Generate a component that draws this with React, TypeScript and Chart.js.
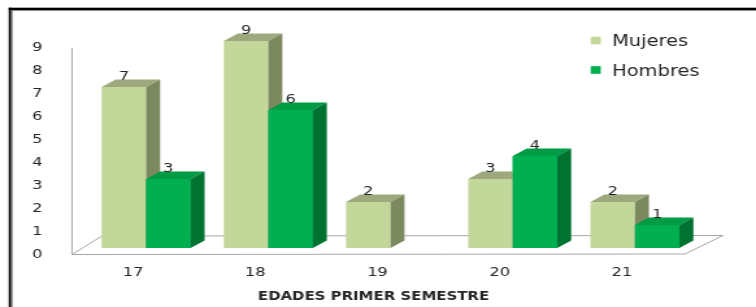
import React, { useEffect, useRef } from 'react';
import { Chart, registerables } from 'chart.js';

Chart.register(...registerables);

// ---- data ----
const categories = ['17', '18', '19', '20', '21'];
const seriesNames = ['Mujeres', 'Hombres'];
const mujeres: (number | null)[] = [7, 9, 2, 3, 2];
const hombres: (number | null)[] = [3, 6, null, 4, 1];
const axisTitle = 'EDADES PRIMER SEMESTRE';
const yMin = 0;
const yMax = 9;
const yStep = 1;

// ---- layout / style ----
const W = 756;
const H = 307;
const CW = 582; // internal canvas width; displayed stretched to W
const SX = W / CW;
const px = (v: number) => v / SX;

const FONT = "'DejaVu Sans', 'Noto Sans', sans-serif";
const TEXT = '#262626';
const palette = [
  { front: '#C4D79B', top: '#9DA97D', side: '#7C895E' },
  { front: '#00B050', top: '#009B45', side: '#007332' },
];
const DEPTH_X = 14;
const DEPTH_Y = -7.5;

function drawFaces(ctx: CanvasRenderingContext2D, bar: any, colors: any) {
  const { x, y, base, width } = bar.getProps(['x', 'y', 'base', 'width'], true);
  if (!isFinite(y) || !isFinite(x)) return;
  const l = x - width / 2;
  const r = x + width / 2;
  const dx = px(DEPTH_X);
  const dy = DEPTH_Y;
  ctx.fillStyle = colors.top;
  ctx.beginPath();
  ctx.moveTo(l, y);
  ctx.lineTo(l + dx, y + dy);
  ctx.lineTo(r + dx, y + dy);
  ctx.lineTo(r, y);
  ctx.closePath();
  ctx.fill();
  ctx.fillStyle = colors.side;
  ctx.beginPath();
  ctx.moveTo(r, y);
  ctx.lineTo(r + dx, y + dy);
  ctx.lineTo(r + dx, base + dy);
  ctx.lineTo(r, base);
  ctx.closePath();
  ctx.fill();
}

const threeD = {
  id: 'threeD',
  beforeDraw(chart: any) {
    const ctx = chart.ctx as CanvasRenderingContext2D;
    ctx.save();
    ctx.fillStyle = '#ffffff';
    ctx.fillRect(0, 0, chart.width, chart.height);
    // frame
    ctx.fillStyle = '#000000';
    ctx.fillRect(px(8.7), 7.7, chart.width, 2.4);
    ctx.fillRect(px(8.7), 7.7, px(2.6), chart.height);
    ctx.fillStyle = '#8c8c8c';
    ctx.fillRect(px(11.3), 10.1, chart.width, 1);
    ctx.fillRect(px(11.3), 10.1, px(1.4), chart.height);
    ctx.restore();
  },
  beforeDatasetsDraw(chart: any) {
    const ctx = chart.ctx as CanvasRenderingContext2D;
    const { left, right, top, bottom } = chart.chartArea;
    ctx.save();
    ctx.strokeStyle = '#a6a6a6';
    ctx.lineWidth = 1;
    ctx.beginPath();
    ctx.moveTo(left - px(13), bottom + 6.5);
    ctx.lineTo(right - px(11), bottom + 6);
    ctx.lineTo(right + px(27), bottom - 12.5);
    ctx.lineTo(left + px(17), bottom - 12);
    ctx.closePath();
    ctx.stroke();
    ctx.beginPath();
    ctx.moveTo(left - px(13), top + 7);
    ctx.lineTo(left - px(13), bottom + 6.5);
    ctx.stroke();
    ctx.restore();
  },
  afterDatasetsDraw(chart: any) {
    const ctx = chart.ctx as CanvasRenderingContext2D;
    const m0 = chart.getDatasetMeta(0);
    const m1 = chart.getDatasetMeta(1);
    ctx.save();
    for (let j = 0; j < categories.length; j++) {
      if (mujeres[j] != null) drawFaces(ctx, m0.data[j], palette[0]);
      if (hombres[j] != null) {
        m1.data[j].draw(ctx);
        drawFaces(ctx, m1.data[j], palette[1]);
      }
    }
    // value labels
    ctx.font = `12.5px ${FONT}`;
    ctx.fillStyle = TEXT;
    ctx.textAlign = 'center';
    ctx.textBaseline = 'alphabetic';
    [mujeres, hombres].forEach((vals, di) => {
      const meta = chart.getDatasetMeta(di);
      vals.forEach((v, j) => {
        if (v == null) return;
        const bar = meta.data[j];
        ctx.fillText(String(v), bar.x, bar.y - 7.5);
      });
    });
    ctx.restore();
  },
  afterDraw(chart: any) {
    const ctx = chart.ctx as CanvasRenderingContext2D;
    const { left, right } = chart.chartArea;
    ctx.save();
    // axis title
    ctx.font = `bold 11.5px ${FONT}`;
    ctx.fillStyle = TEXT;
    ctx.textAlign = 'center';
    ctx.textBaseline = 'alphabetic';
    ctx.fillText(axisTitle, (left + right) / 2 - px(17), 299.5);
    // legend
    ctx.font = `15px ${FONT}`;
    ctx.textAlign = 'left';
    seriesNames.forEach((name, i) => {
      const yOff = i * 29.5;
      ctx.fillStyle = palette[i].front;
      ctx.fillRect(px(590.7), 36.7 + yOff, px(10), 7.6);
      ctx.fillStyle = TEXT;
      ctx.fillText(name, px(612), 46 + yOff);
    });
    ctx.restore();
  },
};

export default function App() {
  const ref = useRef<HTMLCanvasElement>(null);
  useEffect(() => {
    const canvas = ref.current;
    if (!canvas) return;
    const chart = new Chart(canvas, {
      type: 'bar',
      data: {
        labels: categories,
        datasets: [
          {
            label: seriesNames[0],
            data: mujeres,
            backgroundColor: palette[0].front,
            borderWidth: 0,
          },
          {
            label: seriesNames[1],
            data: hombres,
            backgroundColor: palette[1].front,
            borderWidth: 0,
          },
        ],
      },
      options: {
        responsive: false,
        maintainAspectRatio: false,
        devicePixelRatio: 1,
        animation: false,
        layout: {
          padding: { left: 0, right: px(W - 696), top: 41, bottom: 0 },
        },
        datasets: {
          bar: {
            categoryPercentage: 0.728,
            barPercentage: 1.0,
          },
        },
        plugins: {
          legend: { display: false },
          tooltip: { enabled: false },
          title: { display: false },
        },
        scales: {
          x: {
            offset: true,
            grid: { display: false },
            border: { display: false },
            ticks: {
              font: { family: FONT, size: 12.5 },
              color: TEXT,
              padding: 9.5,
              labelOffset: px(-13),
              maxRotation: 0,
            },
            afterFit: (scale: any) => {
              scale.height = H - 248;
            },
          },
          y: {
            min: yMin,
            max: yMax,
            grid: { display: false },
            border: { display: false },
            ticks: {
              stepSize: yStep,
              font: { family: FONT, size: 12.5 },
              color: TEXT,
              padding: px(85 - 53),
              labelOffset: 7,
            },
            afterFit: (scale: any) => {
              scale.width = px(85);
            },
          },
        },
      },
      plugins: [threeD],
    });
    return () => chart.destroy();
  }, []);
  return (
    <canvas
      ref={ref}
      width={CW}
      height={H}
      style={{ position: 'absolute', left: 0, top: 0, width: `${W}px`, height: `${H}px` }}
    />
  );
}
